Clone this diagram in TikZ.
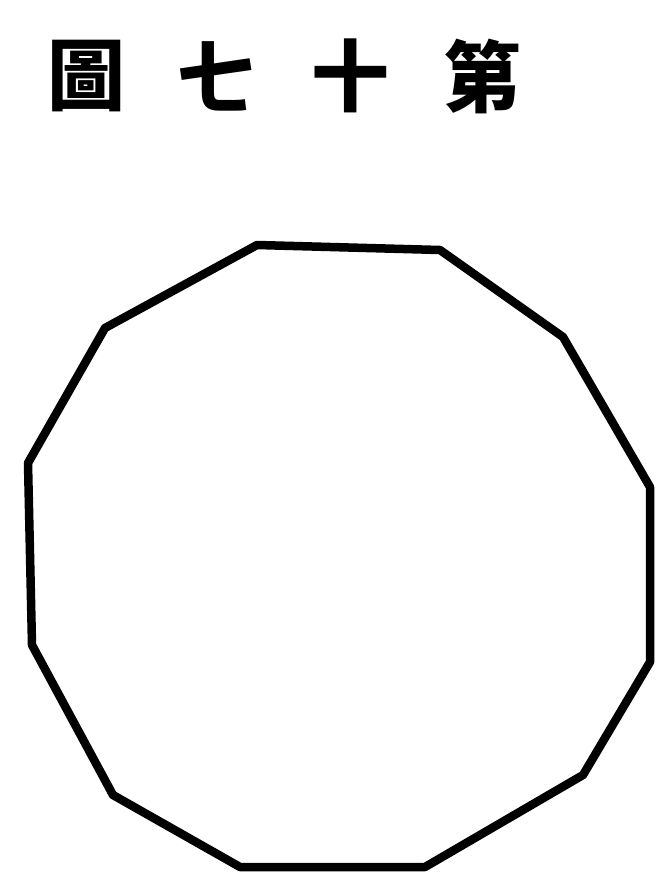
\documentclass[tikz,border=0pt]{standalone}
\usepackage{fontspec}
\newfontfamily\cjk{Noto Sans CJK TC}
\begin{document}
\begin{tikzpicture}[x=1pt,y=-1pt,
  titlechar/.style={inner sep=0pt,font=\cjk\bfseries\fontsize{78}{78}\selectfont},
  edge/.style={line width=8.5pt,line join=round,line cap=round,black}]
\useasboundingbox[fill=white] (0,0) rectangle (660,875);
\node[titlechar] (c1) at (86,76) {圖};
\node[titlechar] (c2) at (216,76) {七};
\node[titlechar] (c3) at (350,76) {十};
\node[titlechar] (c4) at (482,76) {第};
\coordinate (v1) at (257,245);
\coordinate (v2) at (440,250);
\coordinate (v3) at (563,337);
\coordinate (v4) at (650,487);
\coordinate (v5) at (650,662);
\coordinate (v6) at (583,775);
\coordinate (v7) at (425,867);
\coordinate (v8) at (240,867);
\coordinate (v9) at (113,795);
\coordinate (v10) at (32,645);
\coordinate (v11) at (28,463);
\coordinate (v12) at (105,328);
\draw[edge] (v1) -- (v2) -- (v3) -- (v4) -- (v5) -- (v6) -- (v7) -- (v8) -- (v9) -- (v10) -- (v11) -- (v12) -- cycle;
\end{tikzpicture}
\end{document}
